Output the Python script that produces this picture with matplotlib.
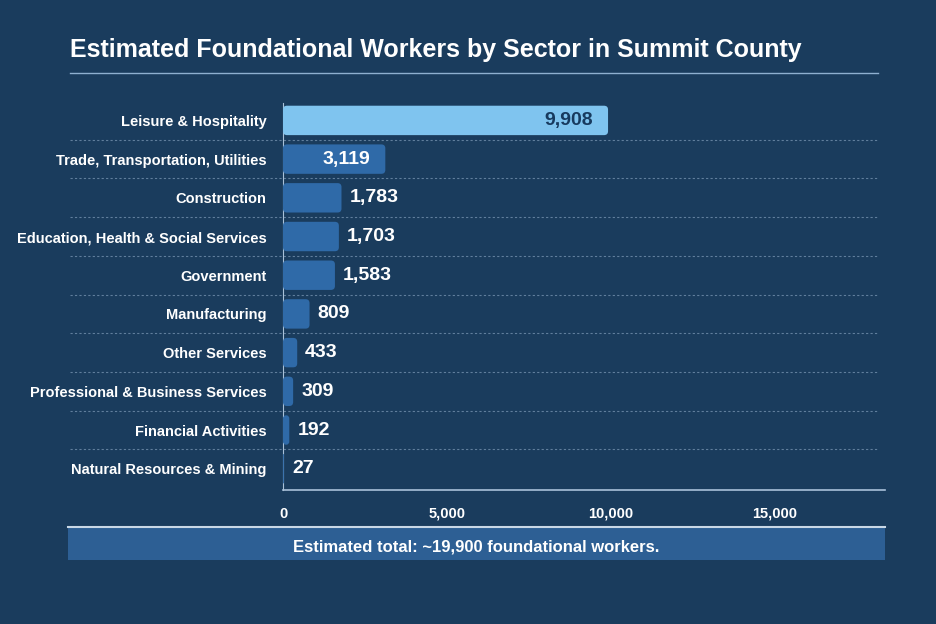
import matplotlib
matplotlib.use('Agg')
import matplotlib.pyplot as plt
from matplotlib.patches import FancyBboxPatch
import matplotlib.transforms as mtransforms

sectors = ["Leisure & Hospitality", "Trade, Transportation, Utilities", "Construction",
           "Education, Health & Social Services", "Government", "Manufacturing",
           "Other Services", "Professional & Business Services", "Financial Activities",
           "Natural Resources & Mining"]
workers = [9908, 3119, 1783, 1703, 1583, 809, 433, 309, 192, 27]
ticks = [0, 5000, 10000, 15000]

plt.rcParams['font.family'] = ['Liberation Sans', 'DejaVu Sans']
BG = '#1a3c5d'
fig = plt.figure(figsize=(9.36, 6.24), dpi=100, facecolor=BG)
ax = fig.add_axes([283/936, 1 - 490/624, 602/936, 387/624])
ax.set_facecolor(BG)
ax.set_xlim(0, 18350)
ax.set_ylim(len(sectors) - 0.45, -0.45)

px = 18350 / 602  # data units per pixel
for i, (name, v) in enumerate(zip(sectors, workers)):
    col = '#7fc4ef' if i == 0 else '#2f6aa8'
    ax.add_patch(FancyBboxPatch((0, i - 0.38), v, 0.76,
                                boxstyle=f"round,pad=0,rounding_size={min(4*px, v/2)}",
                                mutation_aspect=0.76 / (px * 30),
                                fc=col, ec='none', zorder=3))
    tc = '#173a5e' if i == 0 else 'white'
    if v > 3000:
        ax.text(v - 15 * px, i, f"{v:,}", ha='right', va='center', color=tc,
                fontsize=14, fontweight='bold', zorder=4)
    else:
        ax.text(v + 8 * px, i, f"{v:,}", ha='left', va='center', color='white',
                fontsize=14, fontweight='bold', zorder=4)

trans = mtransforms.blended_transform_factory(ax.transAxes, ax.transData)
for i in range(len(sectors) - 1):
    ax.plot([-0.354, 0.988], [i + 0.5, i + 0.5], transform=trans, clip_on=False,
            color='#7f9bb8', lw=0.8, ls=(0, (2, 2)), alpha=0.7)

ax.set_yticks(range(len(sectors)))
ax.set_yticklabels(sectors, color='white', fontsize=10.5, fontweight='bold')
ax.set_xticks(ticks)
ax.set_xticklabels([f"{t:,}" for t in ticks], color='white', fontsize=10.5, fontweight='bold')
ax.tick_params(length=0, pad=12)
ax.tick_params(axis='y', pad=12)
for s in ['top', 'right']:
    ax.spines[s].set_visible(False)
ax.spines['left'].set_color('#a9c1d9')
ax.spines['bottom'].set_color('#a9c1d9')
ax.spines['bottom'].set_linewidth(1.2)

fig.text(70/936, 1 - 50/624, "Estimated Foundational Workers by Sector in Summit County",
         color='white', fontsize=18, fontweight='bold', va='center', ha='left')
fig.add_artist(plt.Line2D([70/936, 878/936], [1 - 73/624] * 2, color='#8fb0d0', lw=1))
fig.add_artist(plt.Line2D([68/936, 885/936], [1 - 527/624] * 2, color='#c9d8e6', lw=1.5))
fig.patches.append(plt.Rectangle((68/936, 1 - 560/624), 817/936, 32/624,
                                 transform=fig.transFigure, fc='#2d5f94', ec='none'))
fig.text(476/936, 1 - 547/624, "Estimated total: ~19,900 foundational workers.",
         color='white', fontsize=12, fontweight='bold', ha='center', va='center')

fig.savefig('out.png', dpi=100, facecolor=BG)
